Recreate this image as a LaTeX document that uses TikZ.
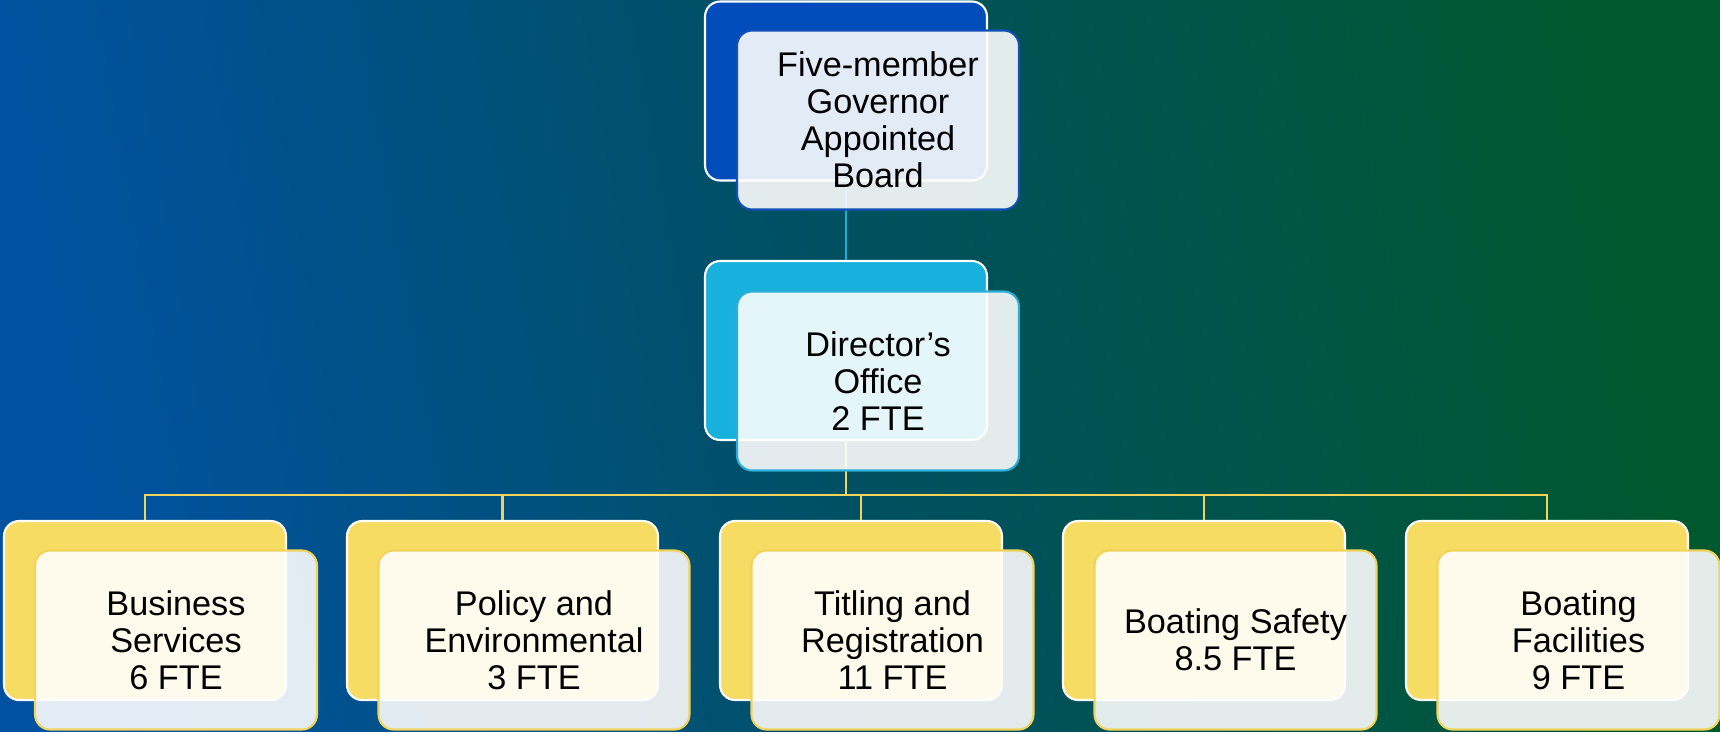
\documentclass[tikz,border=0pt]{standalone}
\usepackage{fontspec}
\setmainfont{Liberation Sans}
\usepackage{tikz}

\definecolor{bgblue}{RGB}{0,82,160}
\definecolor{bgteal}{RGB}{0,80,96}
\definecolor{bggreen}{RGB}{0,88,46}
\definecolor{boardblue}{RGB}{0,76,187}
\definecolor{boardedge}{RGB}{16,80,184}
\definecolor{dircyan}{RGB}{24,176,220}
\definecolor{diredge}{RGB}{44,174,216}
\definecolor{unityellow}{RGB}{247,220,99}
\definecolor{unitedge}{RGB}{242,211,91}

\tikzset{
  backbox/.style={draw=white, line width=1.2pt, rounded corners=0.3cm,
    minimum width=5.64cm, minimum height=3.58cm},
  frontbox/.style={fill=white, fill opacity=0.89, text opacity=1,
    line width=1.2pt, rounded corners=0.3cm, minimum width=5.64cm,
    minimum height=3.58cm, align=center, inner sep=2pt,
    font=\fontsize{19.5}{21}\selectfont},
  cyanline/.style={draw=dircyan, line width=1.2pt},
  yellowline/.style={draw=unitedge, line width=1.2pt}
}

\begin{document}
\begin{tikzpicture}[x=0.02cm, y=-0.02cm]
			\shade[left color=bgblue, right color=bggreen, middle color=bgteal, shading angle=100] (0,0) rectangle (1720,731);
			\useasboundingbox (0,0) rectangle (1720,731);

			% back boxes
			\node[backbox, fill=boardblue] (board) at (846,91) {};
			\node[backbox, fill=dircyan] (dir) at (846,350.5) {};
			\node[backbox, fill=unityellow] (bus) at (145,610.5) {};
			\node[backbox, fill=unityellow, minimum width=6.22cm] (pol) at (502.5,610.5) {};
			\node[backbox, fill=unityellow] (tit) at (861,610.5) {};
			\node[backbox, fill=unityellow] (saf) at (1204,610.5) {};
			\node[backbox, fill=unityellow] (fac) at (1547,610.5) {};

			% connectors
			\coordinate (bar) at (846,495);
			\path [cyanline] (board) edge (dir);
			\path [yellowline] (dir) edge (bar);
			\foreach \u in {bus,pol,tit,saf,fac}
				\draw[yellowline] (bar) -| (\u);

			% front boxes with the texts
			\node[frontbox, draw=boardedge] (boardtxt) at (878,120) {Five-member\\Governor\\Appointed\\Board};
			\node[frontbox, draw=diredge] (dirtxt) at (878,381) {Director’s\\Office\\2 FTE};
			\node[frontbox, draw=unitedge] (bustxt) at (176,640) {Business\\Services\\6 FTE};
			\node[frontbox, draw=unitedge, minimum width=6.22cm] (poltxt) at (534,640) {Policy and\\Environmental\\3 FTE};
			\node[frontbox, draw=unitedge] (tittxt) at (892.5,640) {Titling and\\Registration\\11 FTE};
			\node[frontbox, draw=unitedge] (saftxt) at (1235.5,640) {Boating Safety\\8.5 FTE};
			\node[frontbox, draw=unitedge] (factxt) at (1578.5,640) {Boating\\Facilities\\9 FTE};
		\end{tikzpicture}
\end{document}
